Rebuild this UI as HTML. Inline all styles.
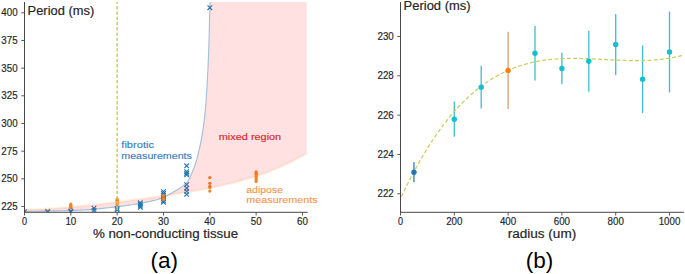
<!DOCTYPE html>
<html><head><meta charset="utf-8"><style>
html,body{margin:0;padding:0;background:#fff;}
svg{display:block;font-family:"Liberation Sans", sans-serif;}
</style></head><body>
<svg width="685" height="274" viewBox="0 0 685 274">
<rect width="685" height="274" fill="#fff"/>
<defs><clipPath id="cl"><rect x="24.5" y="2.0" width="283.1" height="210.3"/></clipPath><clipPath id="cr"><rect x="400.5" y="2.0" width="283.4" height="210.3"/></clipPath></defs>
<g clip-path="url(#cl)">
<path d="M22.20,209.30 L26.80,213.90 M22.20,213.90 L26.80,209.30" stroke="#1f77b4" stroke-width="1.1" fill="none"/>
<path d="M45.37,209.00 L49.96,213.60 M45.37,213.60 L49.96,209.00" stroke="#5f7f98" stroke-width="1.1" fill="none"/>
<path d="M45.37,209.80 L49.96,214.40 M45.37,214.40 L49.96,209.80" stroke="#5f7f98" stroke-width="1.1" fill="none"/>
<path d="M68.53,208.70 L73.13,213.30 M68.53,213.30 L73.13,208.70" stroke="#1f77b4" stroke-width="1.1" fill="none"/>
<path d="M68.53,209.50 L73.13,214.10 M68.53,214.10 L73.13,209.50" stroke="#1f77b4" stroke-width="1.1" fill="none"/>
<path d="M91.70,205.90 L96.30,210.50 M91.70,210.50 L96.30,205.90" stroke="#1f77b4" stroke-width="1.1" fill="none"/>
<path d="M91.70,208.10 L96.30,212.70 M91.70,212.70 L96.30,208.10" stroke="#1f77b4" stroke-width="1.1" fill="none"/>
<path d="M114.86,206.10 L119.46,210.70 M114.86,210.70 L119.46,206.10" stroke="#1f77b4" stroke-width="1.1" fill="none"/>
<path d="M114.86,207.50 L119.46,212.10 M114.86,212.10 L119.46,207.50" stroke="#1f77b4" stroke-width="1.1" fill="none"/>
<path d="M138.02,200.50 L142.62,205.10 M138.02,205.10 L142.62,200.50" stroke="#1f77b4" stroke-width="1.1" fill="none"/>
<path d="M138.02,202.10 L142.62,206.70 M138.02,206.70 L142.62,202.10" stroke="#1f77b4" stroke-width="1.1" fill="none"/>
<path d="M138.02,203.70 L142.62,208.30 M138.02,208.30 L142.62,203.70" stroke="#1f77b4" stroke-width="1.1" fill="none"/>
<path d="M138.02,205.10 L142.62,209.70 M138.02,209.70 L142.62,205.10" stroke="#1f77b4" stroke-width="1.1" fill="none"/>
<path d="M161.19,189.30 L165.79,193.90 M161.19,193.90 L165.79,189.30" stroke="#1f77b4" stroke-width="1.1" fill="none"/>
<path d="M161.19,191.10 L165.79,195.70 M161.19,195.70 L165.79,191.10" stroke="#1f77b4" stroke-width="1.1" fill="none"/>
<path d="M161.19,192.90 L165.79,197.50 M161.19,197.50 L165.79,192.90" stroke="#1f77b4" stroke-width="1.1" fill="none"/>
<path d="M161.19,194.70 L165.79,199.30 M161.19,199.30 L165.79,194.70" stroke="#1f77b4" stroke-width="1.1" fill="none"/>
<path d="M161.19,196.50 L165.79,201.10 M161.19,201.10 L165.79,196.50" stroke="#1f77b4" stroke-width="1.1" fill="none"/>
<path d="M161.19,198.30 L165.79,202.90 M161.19,202.90 L165.79,198.30" stroke="#1f77b4" stroke-width="1.1" fill="none"/>
<path d="M161.19,199.90 L165.79,204.50 M161.19,204.50 L165.79,199.90" stroke="#1f77b4" stroke-width="1.1" fill="none"/>
<path d="M184.35,163.50 L188.96,168.10 M184.35,168.10 L188.96,163.50" stroke="#1f77b4" stroke-width="1.1" fill="none"/>
<path d="M184.35,169.40 L188.96,174.00 M184.35,174.00 L188.96,169.40" stroke="#1f77b4" stroke-width="1.1" fill="none"/>
<path d="M184.35,171.10 L188.96,175.70 M184.35,175.70 L188.96,171.10" stroke="#1f77b4" stroke-width="1.1" fill="none"/>
<path d="M184.35,172.60 L188.96,177.20 M184.35,177.20 L188.96,172.60" stroke="#1f77b4" stroke-width="1.1" fill="none"/>
<path d="M184.35,182.30 L188.96,186.90 M184.35,186.90 L188.96,182.30" stroke="#1f77b4" stroke-width="1.1" fill="none"/>
<path d="M184.35,185.90 L188.96,190.50 M184.35,190.50 L188.96,185.90" stroke="#1f77b4" stroke-width="1.1" fill="none"/>
<path d="M184.35,189.10 L188.96,193.70 M184.35,193.70 L188.96,189.10" stroke="#1f77b4" stroke-width="1.1" fill="none"/>
<path d="M184.35,192.10 L188.96,196.70 M184.35,196.70 L188.96,192.10" stroke="#1f77b4" stroke-width="1.1" fill="none"/>
<path d="M207.52,5.40 L212.12,10.00 M207.52,10.00 L212.12,5.40" stroke="#1f77b4" stroke-width="1.1" fill="none"/>
<circle cx="70.83" cy="204.20" r="1.6" fill="#f58220"/>
<circle cx="70.83" cy="205.40" r="1.6" fill="#f58220"/>
<circle cx="70.83" cy="206.60" r="1.6" fill="#f58220"/>
<circle cx="70.83" cy="207.80" r="1.6" fill="#f58220"/>
<circle cx="117.16" cy="198.80" r="1.6" fill="#f58220"/>
<circle cx="117.16" cy="200.20" r="1.6" fill="#f58220"/>
<circle cx="117.16" cy="201.60" r="1.6" fill="#f58220"/>
<circle cx="117.16" cy="203.00" r="1.6" fill="#f58220"/>
<circle cx="117.16" cy="204.60" r="1.6" fill="#f58220"/>
<circle cx="163.49" cy="195.60" r="1.6" fill="#f58220"/>
<circle cx="163.49" cy="196.80" r="1.6" fill="#f58220"/>
<circle cx="163.49" cy="198.00" r="1.6" fill="#f58220"/>
<circle cx="163.49" cy="199.40" r="1.6" fill="#f58220"/>
<circle cx="209.82" cy="177.60" r="1.6" fill="#f58220"/>
<circle cx="209.82" cy="183.30" r="1.6" fill="#f58220"/>
<circle cx="209.82" cy="186.40" r="1.6" fill="#f58220"/>
<circle cx="209.82" cy="187.60" r="1.6" fill="#f58220"/>
<circle cx="209.82" cy="191.10" r="1.6" fill="#f58220"/>
<circle cx="256.15" cy="171.90" r="1.6" fill="#f58220"/>
<circle cx="256.15" cy="173.30" r="1.6" fill="#f58220"/>
<circle cx="256.15" cy="174.60" r="1.6" fill="#f58220"/>
<circle cx="256.15" cy="176.40" r="1.6" fill="#f58220"/>
<circle cx="256.15" cy="178.00" r="1.6" fill="#f58220"/>
<circle cx="256.15" cy="179.50" r="1.6" fill="#f58220"/>
<circle cx="256.15" cy="181.40" r="1.6" fill="#f58220"/>
<path d="M24.50,209.64 L25.92,209.62 L27.34,209.60 L28.75,209.57 L30.17,209.54 L31.59,209.50 L33.01,209.46 L34.42,209.41 L35.84,209.36 L37.26,209.31 L38.68,209.25 L40.10,209.18 L41.51,209.12 L42.93,209.05 L44.35,208.97 L45.77,208.89 L47.19,208.81 L48.60,208.73 L50.02,208.64 L51.44,208.55 L52.86,208.45 L54.27,208.35 L55.69,208.25 L57.11,208.15 L58.53,208.04 L59.95,207.93 L61.36,207.82 L62.78,207.71 L64.20,207.59 L65.62,207.47 L67.04,207.35 L68.45,207.22 L69.87,207.10 L71.29,206.97 L72.71,206.84 L74.12,206.71 L75.54,206.57 L76.96,206.43 L78.38,206.30 L79.80,206.16 L81.21,206.01 L82.63,205.87 L84.05,205.73 L85.47,205.58 L86.88,205.43 L88.30,205.28 L89.72,205.13 L91.14,204.98 L92.56,204.82 L93.97,204.67 L95.39,204.51 L96.81,204.35 L98.23,204.19 L99.65,204.03 L101.06,203.87 L102.48,203.71 L103.90,203.55 L105.32,203.38 L106.73,203.22 L108.15,203.05 L109.57,202.88 L110.99,202.72 L112.41,202.55 L113.82,202.38 L115.24,202.21 L116.66,202.03 L118.08,201.86 L119.50,201.69 L120.91,201.51 L122.33,201.34 L123.75,201.16 L125.17,200.98 L126.58,200.81 L128.00,200.63 L129.42,200.45 L130.84,200.27 L132.26,200.08 L133.67,199.90 L135.09,199.72 L136.51,199.54 L137.93,199.35 L139.34,199.17 L140.76,198.98 L142.18,198.79 L143.60,198.60 L145.02,198.41 L146.43,198.22 L147.85,198.03 L149.27,197.84 L150.69,197.65 L152.11,197.45 L153.52,197.26 L154.94,197.06 L156.36,196.86 L157.78,196.66 L159.19,196.46 L160.61,196.26 L162.03,196.06 L163.45,195.85 L164.87,195.65 L166.28,195.44 L167.70,195.23 L169.12,195.02 L170.54,194.81 L171.96,194.59 L173.37,194.38 L174.79,194.16 L176.21,193.94 L177.63,193.72 L179.04,193.50 L180.46,193.28 L181.88,193.05 L183.30,192.82 L184.72,192.59 L186.13,192.36 L187.55,192.12 L188.97,191.88 L190.39,191.64 L191.80,191.40 L193.22,191.16 L194.64,190.91 L196.06,190.66 L197.48,190.40 L198.89,190.15 L200.31,189.89 L201.73,189.63 L203.15,189.36 L204.57,189.09 L205.98,188.82 L207.40,188.54 L208.82,188.26 L210.24,187.98 L211.65,187.70 L213.07,187.41 L214.49,187.11 L215.91,186.81 L217.33,186.51 L218.74,186.20 L220.16,185.89 L221.58,185.58 L223.00,185.26 L224.42,184.93 L225.83,184.60 L227.25,184.27 L228.67,183.93 L230.09,183.58 L231.50,183.23 L232.92,182.88 L234.34,182.52 L235.76,182.15 L237.18,181.78 L238.59,181.40 L240.01,181.02 L241.43,180.63 L242.85,180.23 L244.26,179.83 L245.68,179.42 L247.10,179.00 L248.52,178.58 L249.94,178.15 L251.35,177.72 L252.77,177.27 L254.19,176.82 L255.61,176.36 L257.03,175.89 L258.44,175.42 L259.86,174.94 L261.28,174.45 L262.70,173.95 L264.11,173.44 L265.53,172.92 L266.95,172.40 L268.37,171.87 L269.79,171.32 L271.20,170.77 L272.62,170.21 L274.04,169.64 L275.46,169.06 L276.88,168.47 L278.29,167.86 L279.71,167.25 L281.13,166.63 L282.55,166.00 L283.96,165.35 L285.38,164.70 L286.80,164.03 L288.22,163.36 L289.64,162.67 L291.05,161.97 L292.47,161.25 L293.89,160.53 L295.31,159.79 L296.72,159.04 L298.14,158.28 L299.56,157.51 L300.98,156.72 L302.40,155.92 L303.81,155.10 L305.23,154.27 L306.65,153.43 L306.65,1.00 L210.00,1.00 L210.00,-1.20 L209.79,8.69 L209.58,17.99 L209.37,26.64 L209.16,34.54 L208.95,41.63 L208.74,48.16 L208.53,54.21 L208.32,59.73 L208.11,64.67 L207.90,69.05 L207.69,73.23 L207.48,77.26 L207.27,81.15 L207.06,84.89 L206.85,88.49 L206.64,91.93 L206.43,95.21 L206.22,98.32 L206.01,101.27 L205.80,104.05 L205.59,106.66 L205.38,109.09 L205.17,111.34 L204.96,113.40 L204.75,115.35 L204.54,117.24 L204.33,119.06 L204.12,120.81 L203.91,122.51 L203.70,124.14 L203.49,125.72 L203.28,127.24 L203.07,128.71 L202.86,130.14 L202.65,131.51 L202.44,132.85 L202.23,134.14 L202.02,135.39 L201.81,136.61 L201.60,137.80 L201.39,138.95 L201.18,140.08 L200.97,141.18 L200.76,142.26 L200.55,143.32 L200.34,144.36 L200.13,145.39 L199.92,146.40 L199.71,147.40 L199.50,148.37 L199.29,149.32 L199.08,150.26 L198.87,151.17 L198.66,152.07 L198.45,152.94 L198.24,153.80 L198.03,154.64 L197.82,155.46 L197.61,156.27 L197.39,157.05 L197.18,157.83 L196.97,158.58 L196.76,159.32 L196.55,160.05 L196.34,160.76 L196.13,161.46 L195.92,162.14 L195.71,162.81 L195.50,163.47 L195.29,164.12 L195.08,164.75 L194.87,165.37 L194.66,165.97 L194.45,166.55 L194.24,167.11 L194.03,167.65 L193.82,168.19 L193.61,168.71 L193.40,169.21 L193.19,169.72 L192.98,170.21 L192.77,170.70 L192.56,171.19 L192.35,171.68 L192.14,172.17 L191.93,172.66 L191.72,173.16 L191.51,173.67 L191.30,174.18 L191.09,174.69 L190.88,175.20 L190.67,175.71 L190.46,176.21 L190.25,176.71 L190.04,177.19 L189.83,177.66 L189.62,178.11 L189.41,178.55 L189.20,178.96 L188.99,179.35 L188.78,179.71 L188.57,180.04 L188.36,180.36 L188.15,180.66 L187.94,180.96 L187.73,181.24 L187.52,181.51 L187.31,181.78 L187.10,182.03 L186.89,182.28 L186.68,182.52 L186.47,182.75 L186.26,182.98 L186.05,183.20 L185.84,183.41 L185.63,183.61 L185.42,183.81 L185.21,184.01 L185.00,184.20 L182.28,186.41 L179.56,188.26 L176.84,189.91 L174.12,191.53 L171.40,193.16 L168.68,194.75 L165.96,196.23 L163.24,197.55 L160.52,198.63 L157.80,199.48 L155.08,200.24 L152.36,200.93 L149.64,201.55 L146.92,202.11 L144.19,202.64 L141.47,203.14 L138.75,203.62 L136.03,204.08 L133.31,204.53 L130.59,204.95 L127.87,205.35 L125.15,205.73 L122.43,206.10 L119.71,206.44 L116.99,206.77 L114.27,207.08 L111.55,207.39 L108.83,207.71 L106.11,208.02 L103.39,208.32 L100.67,208.62 L97.95,208.90 L95.23,209.17 L92.51,209.41 L89.79,209.64 L87.07,209.84 L84.35,210.00 L81.63,210.14 L78.91,210.24 L76.19,210.33 L73.47,210.42 L70.75,210.50 L68.03,210.58 L65.31,210.66 L62.58,210.74 L59.86,210.81 L57.14,210.88 L54.42,210.94 L51.70,211.00 L48.98,211.05 L46.26,211.10 L43.54,211.15 L40.82,211.19 L38.10,211.22 L35.38,211.25 L32.66,211.27 L29.94,211.29 L27.22,211.30 L24.50,211.30 Z" fill="#ff0a14" fill-opacity="0.12" stroke="none"/>
<path d="M24.50,209.64 L25.92,209.62 L27.34,209.60 L28.75,209.57 L30.17,209.54 L31.59,209.50 L33.01,209.46 L34.42,209.41 L35.84,209.36 L37.26,209.31 L38.68,209.25 L40.10,209.18 L41.51,209.12 L42.93,209.05 L44.35,208.97 L45.77,208.89 L47.19,208.81 L48.60,208.73 L50.02,208.64 L51.44,208.55 L52.86,208.45 L54.27,208.35 L55.69,208.25 L57.11,208.15 L58.53,208.04 L59.95,207.93 L61.36,207.82 L62.78,207.71 L64.20,207.59 L65.62,207.47 L67.04,207.35 L68.45,207.22 L69.87,207.10 L71.29,206.97 L72.71,206.84 L74.12,206.71 L75.54,206.57 L76.96,206.43 L78.38,206.30 L79.80,206.16 L81.21,206.01 L82.63,205.87 L84.05,205.73 L85.47,205.58 L86.88,205.43 L88.30,205.28 L89.72,205.13 L91.14,204.98 L92.56,204.82 L93.97,204.67 L95.39,204.51 L96.81,204.35 L98.23,204.19 L99.65,204.03 L101.06,203.87 L102.48,203.71 L103.90,203.55 L105.32,203.38 L106.73,203.22 L108.15,203.05 L109.57,202.88 L110.99,202.72 L112.41,202.55 L113.82,202.38 L115.24,202.21 L116.66,202.03 L118.08,201.86 L119.50,201.69 L120.91,201.51 L122.33,201.34 L123.75,201.16 L125.17,200.98 L126.58,200.81 L128.00,200.63 L129.42,200.45 L130.84,200.27 L132.26,200.08 L133.67,199.90 L135.09,199.72 L136.51,199.54 L137.93,199.35 L139.34,199.17 L140.76,198.98 L142.18,198.79 L143.60,198.60 L145.02,198.41 L146.43,198.22 L147.85,198.03 L149.27,197.84 L150.69,197.65 L152.11,197.45 L153.52,197.26 L154.94,197.06 L156.36,196.86 L157.78,196.66 L159.19,196.46 L160.61,196.26 L162.03,196.06 L163.45,195.85 L164.87,195.65 L166.28,195.44 L167.70,195.23 L169.12,195.02 L170.54,194.81 L171.96,194.59 L173.37,194.38 L174.79,194.16 L176.21,193.94 L177.63,193.72 L179.04,193.50 L180.46,193.28 L181.88,193.05 L183.30,192.82 L184.72,192.59 L186.13,192.36 L187.55,192.12 L188.97,191.88 L190.39,191.64 L191.80,191.40 L193.22,191.16 L194.64,190.91 L196.06,190.66 L197.48,190.40 L198.89,190.15 L200.31,189.89 L201.73,189.63 L203.15,189.36 L204.57,189.09 L205.98,188.82 L207.40,188.54 L208.82,188.26 L210.24,187.98 L211.65,187.70 L213.07,187.41 L214.49,187.11 L215.91,186.81 L217.33,186.51 L218.74,186.20 L220.16,185.89 L221.58,185.58 L223.00,185.26 L224.42,184.93 L225.83,184.60 L227.25,184.27 L228.67,183.93 L230.09,183.58 L231.50,183.23 L232.92,182.88 L234.34,182.52 L235.76,182.15 L237.18,181.78 L238.59,181.40 L240.01,181.02 L241.43,180.63 L242.85,180.23 L244.26,179.83 L245.68,179.42 L247.10,179.00 L248.52,178.58 L249.94,178.15 L251.35,177.72 L252.77,177.27 L254.19,176.82 L255.61,176.36 L257.03,175.89 L258.44,175.42 L259.86,174.94 L261.28,174.45 L262.70,173.95 L264.11,173.44 L265.53,172.92 L266.95,172.40 L268.37,171.87 L269.79,171.32 L271.20,170.77 L272.62,170.21 L274.04,169.64 L275.46,169.06 L276.88,168.47 L278.29,167.86 L279.71,167.25 L281.13,166.63 L282.55,166.00 L283.96,165.35 L285.38,164.70 L286.80,164.03 L288.22,163.36 L289.64,162.67 L291.05,161.97 L292.47,161.25 L293.89,160.53 L295.31,159.79 L296.72,159.04 L298.14,158.28 L299.56,157.51 L300.98,156.72 L302.40,155.92 L303.81,155.10 L305.23,154.27 L306.65,153.43" fill="none" stroke="#ffa040" stroke-opacity="0.15" stroke-width="2.4"/>
<path d="M24.50,211.30 L27.22,211.30 L29.94,211.29 L32.66,211.27 L35.38,211.25 L38.10,211.22 L40.82,211.19 L43.54,211.15 L46.26,211.10 L48.98,211.05 L51.70,211.00 L54.42,210.94 L57.14,210.88 L59.86,210.81 L62.58,210.74 L65.31,210.66 L68.03,210.58 L70.75,210.50 L73.47,210.42 L76.19,210.33 L78.91,210.24 L81.63,210.14 L84.35,210.00 L87.07,209.84 L89.79,209.64 L92.51,209.41 L95.23,209.17 L97.95,208.90 L100.67,208.62 L103.39,208.32 L106.11,208.02 L108.83,207.71 L111.55,207.39 L114.27,207.08 L116.99,206.77 L119.71,206.44 L122.43,206.10 L125.15,205.73 L127.87,205.35 L130.59,204.95 L133.31,204.53 L136.03,204.08 L138.75,203.62 L141.47,203.14 L144.19,202.64 L146.92,202.11 L149.64,201.55 L152.36,200.93 L155.08,200.24 L157.80,199.48 L160.52,198.63 L163.24,197.55 L165.96,196.23 L168.68,194.75 L171.40,193.16 L174.12,191.53 L176.84,189.91 L179.56,188.26 L182.28,186.41 L185.00,184.20 L185.21,184.01 L185.42,183.81 L185.63,183.61 L185.84,183.41 L186.05,183.20 L186.26,182.98 L186.47,182.75 L186.68,182.52 L186.89,182.28 L187.10,182.03 L187.31,181.78 L187.52,181.51 L187.73,181.24 L187.94,180.96 L188.15,180.66 L188.36,180.36 L188.57,180.04 L188.78,179.71 L188.99,179.35 L189.20,178.96 L189.41,178.55 L189.62,178.11 L189.83,177.66 L190.04,177.19 L190.25,176.71 L190.46,176.21 L190.67,175.71 L190.88,175.20 L191.09,174.69 L191.30,174.18 L191.51,173.67 L191.72,173.16 L191.93,172.66 L192.14,172.17 L192.35,171.68 L192.56,171.19 L192.77,170.70 L192.98,170.21 L193.19,169.72 L193.40,169.21 L193.61,168.71 L193.82,168.19 L194.03,167.65 L194.24,167.11 L194.45,166.55 L194.66,165.97 L194.87,165.37 L195.08,164.75 L195.29,164.12 L195.50,163.47 L195.71,162.81 L195.92,162.14 L196.13,161.46 L196.34,160.76 L196.55,160.05 L196.76,159.32 L196.97,158.58 L197.18,157.83 L197.39,157.05 L197.61,156.27 L197.82,155.46 L198.03,154.64 L198.24,153.80 L198.45,152.94 L198.66,152.07 L198.87,151.17 L199.08,150.26 L199.29,149.32 L199.50,148.37 L199.71,147.40 L199.92,146.40 L200.13,145.39 L200.34,144.36 L200.55,143.32 L200.76,142.26 L200.97,141.18 L201.18,140.08 L201.39,138.95 L201.60,137.80 L201.81,136.61 L202.02,135.39 L202.23,134.14 L202.44,132.85 L202.65,131.51 L202.86,130.14 L203.07,128.71 L203.28,127.24 L203.49,125.72 L203.70,124.14 L203.91,122.51 L204.12,120.81 L204.33,119.06 L204.54,117.24 L204.75,115.35 L204.96,113.40 L205.17,111.34 L205.38,109.09 L205.59,106.66 L205.80,104.05 L206.01,101.27 L206.22,98.32 L206.43,95.21 L206.64,91.93 L206.85,88.49 L207.06,84.89 L207.27,81.15 L207.48,77.26 L207.69,73.23 L207.90,69.05 L208.11,64.67 L208.32,59.73 L208.53,54.21 L208.74,48.16 L208.95,41.63 L209.16,34.54 L209.37,26.64 L209.58,17.99 L209.79,8.69 L210.00,-1.20" fill="none" stroke="#1f77b4" stroke-opacity="0.4" stroke-width="1.15"/>
<line x1="117.16" y1="212.3" x2="117.16" y2="1.0" stroke="#c8cc70" stroke-width="1.5" stroke-dasharray="3.4 1.88" stroke-dashoffset="3.0"/>
</g>
<text x="121.30" y="148.40" font-size="9.4" fill="#3a80bb" text-anchor="start" textLength="32.80" lengthAdjust="spacingAndGlyphs" stroke="#3a80bb" stroke-width="0.15">fibrotic</text>
<text x="121.30" y="158.60" font-size="9.4" fill="#3a80bb" text-anchor="start" textLength="70.60" lengthAdjust="spacingAndGlyphs" stroke="#3a80bb" stroke-width="0.15">measurements</text>
<text x="218.80" y="140.00" font-size="9.4" fill="#d8242e" text-anchor="start" textLength="62.40" lengthAdjust="spacingAndGlyphs" stroke="#d8242e" stroke-width="0.15">mixed region</text>
<text x="246.30" y="192.80" font-size="9.4" fill="#f29450" text-anchor="start" textLength="36.70" lengthAdjust="spacingAndGlyphs" stroke="#f29450" stroke-width="0.12">adipose</text>
<text x="246.30" y="203.10" font-size="9.4" fill="#f29450" text-anchor="start" textLength="71.40" lengthAdjust="spacingAndGlyphs" stroke="#f29450" stroke-width="0.12">measurements</text>
<line x1="24.5" y1="2.0" x2="24.5" y2="212.8" stroke="#464646" stroke-width="1"/>
<line x1="24.0" y1="212.3" x2="307.6" y2="212.3" stroke="#464646" stroke-width="1"/>
<line x1="21.30" y1="206.50" x2="24.5" y2="206.50" stroke="#464646" stroke-width="0.9"/>
<text x="17.60" y="210.00" font-size="11" fill="#262626" text-anchor="end" textLength="16.30" lengthAdjust="spacingAndGlyphs" stroke="#262626" stroke-width="0.18">225</text>
<line x1="21.30" y1="178.83" x2="24.5" y2="178.83" stroke="#464646" stroke-width="0.9"/>
<text x="17.60" y="182.33" font-size="11" fill="#262626" text-anchor="end" textLength="16.30" lengthAdjust="spacingAndGlyphs" stroke="#262626" stroke-width="0.18">250</text>
<line x1="21.30" y1="151.16" x2="24.5" y2="151.16" stroke="#464646" stroke-width="0.9"/>
<text x="17.60" y="154.66" font-size="11" fill="#262626" text-anchor="end" textLength="16.30" lengthAdjust="spacingAndGlyphs" stroke="#262626" stroke-width="0.18">275</text>
<line x1="21.30" y1="123.49" x2="24.5" y2="123.49" stroke="#464646" stroke-width="0.9"/>
<text x="17.60" y="126.99" font-size="11" fill="#262626" text-anchor="end" textLength="16.30" lengthAdjust="spacingAndGlyphs" stroke="#262626" stroke-width="0.18">300</text>
<line x1="21.30" y1="95.81" x2="24.5" y2="95.81" stroke="#464646" stroke-width="0.9"/>
<text x="17.60" y="99.31" font-size="11" fill="#262626" text-anchor="end" textLength="16.30" lengthAdjust="spacingAndGlyphs" stroke="#262626" stroke-width="0.18">325</text>
<line x1="21.30" y1="68.14" x2="24.5" y2="68.14" stroke="#464646" stroke-width="0.9"/>
<text x="17.60" y="71.64" font-size="11" fill="#262626" text-anchor="end" textLength="16.30" lengthAdjust="spacingAndGlyphs" stroke="#262626" stroke-width="0.18">350</text>
<line x1="21.30" y1="40.47" x2="24.5" y2="40.47" stroke="#464646" stroke-width="0.9"/>
<text x="17.60" y="43.97" font-size="11" fill="#262626" text-anchor="end" textLength="16.30" lengthAdjust="spacingAndGlyphs" stroke="#262626" stroke-width="0.18">375</text>
<line x1="21.30" y1="12.80" x2="24.5" y2="12.80" stroke="#464646" stroke-width="0.9"/>
<text x="17.60" y="16.30" font-size="11" fill="#262626" text-anchor="end" textLength="16.30" lengthAdjust="spacingAndGlyphs" stroke="#262626" stroke-width="0.18">400</text>
<line x1="24.50" y1="212.3" x2="24.50" y2="215.50" stroke="#464646" stroke-width="0.9"/>
<text x="24.50" y="224.60" font-size="11" fill="#262626" text-anchor="middle" textLength="5.00" lengthAdjust="spacingAndGlyphs" stroke="#262626" stroke-width="0.18">0</text>
<line x1="70.83" y1="212.3" x2="70.83" y2="215.50" stroke="#464646" stroke-width="0.9"/>
<text x="70.83" y="224.60" font-size="11" fill="#262626" text-anchor="middle" textLength="10.90" lengthAdjust="spacingAndGlyphs" stroke="#262626" stroke-width="0.18">10</text>
<line x1="117.16" y1="212.3" x2="117.16" y2="215.50" stroke="#464646" stroke-width="0.9"/>
<text x="117.16" y="224.60" font-size="11" fill="#262626" text-anchor="middle" textLength="10.90" lengthAdjust="spacingAndGlyphs" stroke="#262626" stroke-width="0.18">20</text>
<line x1="163.49" y1="212.3" x2="163.49" y2="215.50" stroke="#464646" stroke-width="0.9"/>
<text x="163.49" y="224.60" font-size="11" fill="#262626" text-anchor="middle" textLength="10.90" lengthAdjust="spacingAndGlyphs" stroke="#262626" stroke-width="0.18">30</text>
<line x1="209.82" y1="212.3" x2="209.82" y2="215.50" stroke="#464646" stroke-width="0.9"/>
<text x="209.82" y="224.60" font-size="11" fill="#262626" text-anchor="middle" textLength="10.90" lengthAdjust="spacingAndGlyphs" stroke="#262626" stroke-width="0.18">40</text>
<line x1="256.15" y1="212.3" x2="256.15" y2="215.50" stroke="#464646" stroke-width="0.9"/>
<text x="256.15" y="224.60" font-size="11" fill="#262626" text-anchor="middle" textLength="10.90" lengthAdjust="spacingAndGlyphs" stroke="#262626" stroke-width="0.18">50</text>
<line x1="302.48" y1="212.3" x2="302.48" y2="215.50" stroke="#464646" stroke-width="0.9"/>
<text x="302.48" y="224.60" font-size="11" fill="#262626" text-anchor="middle" textLength="10.90" lengthAdjust="spacingAndGlyphs" stroke="#262626" stroke-width="0.18">60</text>
<text x="27.60" y="14.60" font-size="12" fill="#262626" text-anchor="start" textLength="66.60" lengthAdjust="spacingAndGlyphs" stroke="#262626" stroke-width="0.18">Period (ms)</text>
<text x="92.90" y="238.20" font-size="12" fill="#262626" text-anchor="start" textLength="145.20" lengthAdjust="spacingAndGlyphs" stroke="#262626" stroke-width="0.18">% non-conducting tissue</text>
<text x="164.20" y="268.20" font-size="22.5" fill="#000" text-anchor="middle">(a)</text>
<g clip-path="url(#cr)">
<line x1="413.95" y1="162.30" x2="413.95" y2="182.30" stroke="#3a7fb8" stroke-width="1.35"/>
<line x1="454.30" y1="101.59" x2="454.30" y2="136.79" stroke="#45bfd0" stroke-width="1.35"/>
<line x1="481.20" y1="65.83" x2="481.20" y2="108.54" stroke="#45bfd0" stroke-width="1.35"/>
<line x1="508.10" y1="31.73" x2="508.10" y2="109.04" stroke="#e4a070" stroke-width="1.35"/>
<line x1="535.00" y1="25.98" x2="535.00" y2="80.39" stroke="#45bfd0" stroke-width="1.35"/>
<line x1="561.90" y1="52.73" x2="561.90" y2="84.24" stroke="#45bfd0" stroke-width="1.35"/>
<line x1="588.80" y1="30.83" x2="588.80" y2="91.74" stroke="#45bfd0" stroke-width="1.35"/>
<line x1="615.70" y1="14.03" x2="615.70" y2="74.93" stroke="#45bfd0" stroke-width="1.35"/>
<line x1="642.60" y1="45.48" x2="642.60" y2="113.09" stroke="#45bfd0" stroke-width="1.35"/>
<line x1="669.50" y1="11.38" x2="669.50" y2="92.39" stroke="#45bfd0" stroke-width="1.35"/>
<path d="M400.50,198.62 L401.45,196.60 L402.40,194.59 L403.35,192.60 L404.30,190.63 L405.25,188.68 L406.19,186.75 L407.14,184.83 L408.09,182.94 L409.04,181.06 L409.99,179.21 L410.94,177.37 L411.89,175.55 L412.84,173.75 L413.79,171.96 L414.74,170.20 L415.69,168.45 L416.64,166.72 L417.58,165.01 L418.53,163.32 L419.48,161.64 L420.43,159.98 L421.38,158.34 L422.33,156.72 L423.28,155.11 L424.23,153.52 L425.18,151.95 L426.13,150.39 L427.08,148.85 L428.03,147.33 L428.97,145.83 L429.92,144.34 L430.87,142.87 L431.82,141.42 L432.77,139.98 L433.72,138.55 L434.67,137.15 L435.62,135.76 L436.57,134.39 L437.52,133.03 L438.47,131.69 L439.42,130.36 L440.36,129.05 L441.31,127.76 L442.26,126.48 L443.21,125.21 L444.16,123.96 L445.11,122.73 L446.06,121.51 L447.01,120.31 L447.96,119.12 L448.91,117.95 L449.86,116.79 L450.80,115.65 L451.75,114.52 L452.70,113.40 L453.65,112.30 L454.60,111.22 L455.55,110.15 L456.50,109.09 L457.45,108.05 L458.40,107.02 L459.35,106.00 L460.30,105.00 L461.25,104.01 L462.19,103.04 L463.14,102.08 L464.09,101.13 L465.04,100.19 L465.99,99.27 L466.94,98.37 L467.89,97.47 L468.84,96.59 L469.79,95.72 L470.74,94.87 L471.69,94.02 L472.64,93.19 L473.58,92.37 L474.53,91.57 L475.48,90.78 L476.43,89.99 L477.38,89.23 L478.33,88.47 L479.28,87.73 L480.23,86.99 L481.18,86.27 L482.13,85.56 L483.08,84.87 L484.02,84.18 L484.97,83.50 L485.92,82.84 L486.87,82.19 L487.82,81.55 L488.77,80.92 L489.72,80.30 L490.67,79.69 L491.62,79.10 L492.57,78.51 L493.52,77.94 L494.47,77.37 L495.41,76.82 L496.36,76.27 L497.31,75.74 L498.26,75.22 L499.21,74.70 L500.16,74.20 L501.11,73.71 L502.06,73.22 L503.01,72.75 L503.96,72.28 L504.91,71.83 L505.86,71.38 L506.80,70.95 L507.75,70.52 L508.70,70.10 L509.65,69.70 L510.60,69.30 L511.55,68.91 L512.50,68.53 L513.45,68.15 L514.40,67.79 L515.35,67.43 L516.30,67.09 L517.25,66.75 L518.19,66.42 L519.14,66.10 L520.09,65.78 L521.04,65.48 L521.99,65.18 L522.94,64.89 L523.89,64.61 L524.84,64.33 L525.79,64.07 L526.74,63.81 L527.69,63.56 L528.63,63.31 L529.58,63.07 L530.53,62.84 L531.48,62.62 L532.43,62.40 L533.38,62.19 L534.33,61.99 L535.28,61.80 L536.23,61.61 L537.18,61.42 L538.13,61.25 L539.08,61.08 L540.02,60.91 L540.97,60.76 L541.92,60.61 L542.87,60.46 L543.82,60.32 L544.77,60.19 L545.72,60.06 L546.67,59.94 L547.62,59.82 L548.57,59.71 L549.52,59.60 L550.47,59.50 L551.41,59.40 L552.36,59.31 L553.31,59.23 L554.26,59.15 L555.21,59.07 L556.16,59.00 L557.11,58.93 L558.06,58.87 L559.01,58.81 L559.96,58.76 L560.91,58.71 L561.86,58.66 L562.80,58.62 L563.75,58.59 L564.70,58.55 L565.65,58.52 L566.60,58.50 L567.55,58.48 L568.50,58.46 L569.45,58.44 L570.40,58.43 L571.35,58.42 L572.30,58.42 L573.24,58.42 L574.19,58.42 L575.14,58.42 L576.09,58.43 L577.04,58.44 L577.99,58.45 L578.94,58.46 L579.89,58.48 L580.84,58.50 L581.79,58.52 L582.74,58.55 L583.69,58.57 L584.63,58.60 L585.58,58.63 L586.53,58.66 L587.48,58.69 L588.43,58.73 L589.38,58.77 L590.33,58.80 L591.28,58.84 L592.23,58.89 L593.18,58.93 L594.13,58.97 L595.08,59.02 L596.02,59.06 L596.97,59.11 L597.92,59.15 L598.87,59.20 L599.82,59.25 L600.77,59.30 L601.72,59.35 L602.67,59.40 L603.62,59.44 L604.57,59.49 L605.52,59.54 L606.46,59.59 L607.41,59.64 L608.36,59.69 L609.31,59.74 L610.26,59.79 L611.21,59.84 L612.16,59.88 L613.11,59.93 L614.06,59.98 L615.01,60.02 L615.96,60.07 L616.91,60.11 L617.85,60.15 L618.80,60.19 L619.75,60.23 L620.70,60.27 L621.65,60.30 L622.60,60.34 L623.55,60.37 L624.50,60.40 L625.45,60.43 L626.40,60.46 L627.35,60.49 L628.30,60.51 L629.24,60.53 L630.19,60.55 L631.14,60.57 L632.09,60.58 L633.04,60.59 L633.99,60.60 L634.94,60.61 L635.89,60.61 L636.84,60.61 L637.79,60.61 L638.74,60.60 L639.69,60.59 L640.63,60.58 L641.58,60.56 L642.53,60.54 L643.48,60.52 L644.43,60.49 L645.38,60.46 L646.33,60.43 L647.28,60.39 L648.23,60.35 L649.18,60.30 L650.13,60.25 L651.07,60.20 L652.02,60.14 L652.97,60.08 L653.92,60.01 L654.87,59.93 L655.82,59.86 L656.77,59.77 L657.72,59.69 L658.67,59.60 L659.62,59.50 L660.57,59.40 L661.52,59.29 L662.46,59.17 L663.41,59.06 L664.36,58.93 L665.31,58.80 L666.26,58.67 L667.21,58.53 L668.16,58.38 L669.11,58.23 L670.06,58.07 L671.01,57.90 L671.96,57.73 L672.91,57.55 L673.85,57.37 L674.80,57.18 L675.75,56.98 L676.70,56.77 L677.65,56.56 L678.60,56.34 L679.55,56.12 L680.50,55.89 L681.45,55.65 L682.40,55.40 L683.35,55.15 L684.30,54.89" fill="none" stroke="#cacd5e" stroke-width="1.25" stroke-dasharray="3.9 2.3" stroke-dashoffset="4.2"/>
<circle cx="413.95" cy="172.30" r="2.7" fill="#1f77b4"/>
<circle cx="454.30" cy="119.19" r="2.7" fill="#17becf"/>
<circle cx="481.20" cy="87.19" r="2.7" fill="#17becf"/>
<circle cx="508.10" cy="70.38" r="2.7" fill="#ff7f0e"/>
<circle cx="535.00" cy="53.18" r="2.7" fill="#17becf"/>
<circle cx="561.90" cy="68.48" r="2.7" fill="#17becf"/>
<circle cx="588.80" cy="61.28" r="2.7" fill="#17becf"/>
<circle cx="615.70" cy="44.48" r="2.7" fill="#17becf"/>
<circle cx="642.60" cy="79.29" r="2.7" fill="#17becf"/>
<circle cx="669.50" cy="51.88" r="2.7" fill="#17becf"/>
</g>
<line x1="400.5" y1="2.0" x2="400.5" y2="212.8" stroke="#464646" stroke-width="1"/>
<line x1="400.0" y1="212.3" x2="683.9" y2="212.3" stroke="#464646" stroke-width="1"/>
<line x1="397.30" y1="193.80" x2="400.5" y2="193.80" stroke="#464646" stroke-width="0.9"/>
<text x="393.80" y="197.30" font-size="11" fill="#262626" text-anchor="end" textLength="16.30" lengthAdjust="spacingAndGlyphs" stroke="#262626" stroke-width="0.18">222</text>
<line x1="397.30" y1="154.48" x2="400.5" y2="154.48" stroke="#464646" stroke-width="0.9"/>
<text x="393.80" y="157.98" font-size="11" fill="#262626" text-anchor="end" textLength="16.30" lengthAdjust="spacingAndGlyphs" stroke="#262626" stroke-width="0.18">224</text>
<line x1="397.30" y1="115.15" x2="400.5" y2="115.15" stroke="#464646" stroke-width="0.9"/>
<text x="393.80" y="118.65" font-size="11" fill="#262626" text-anchor="end" textLength="16.30" lengthAdjust="spacingAndGlyphs" stroke="#262626" stroke-width="0.18">226</text>
<line x1="397.30" y1="75.83" x2="400.5" y2="75.83" stroke="#464646" stroke-width="0.9"/>
<text x="393.80" y="79.33" font-size="11" fill="#262626" text-anchor="end" textLength="16.30" lengthAdjust="spacingAndGlyphs" stroke="#262626" stroke-width="0.18">228</text>
<line x1="397.30" y1="36.50" x2="400.5" y2="36.50" stroke="#464646" stroke-width="0.9"/>
<text x="393.80" y="40.00" font-size="11" fill="#262626" text-anchor="end" textLength="16.30" lengthAdjust="spacingAndGlyphs" stroke="#262626" stroke-width="0.18">230</text>
<line x1="400.50" y1="212.3" x2="400.50" y2="215.50" stroke="#464646" stroke-width="0.9"/>
<text x="400.50" y="224.60" font-size="11" fill="#262626" text-anchor="middle" textLength="5.00" lengthAdjust="spacingAndGlyphs" stroke="#262626" stroke-width="0.18">0</text>
<line x1="454.30" y1="212.3" x2="454.30" y2="215.50" stroke="#464646" stroke-width="0.9"/>
<text x="454.30" y="224.60" font-size="11" fill="#262626" text-anchor="middle" textLength="16.30" lengthAdjust="spacingAndGlyphs" stroke="#262626" stroke-width="0.18">200</text>
<line x1="508.10" y1="212.3" x2="508.10" y2="215.50" stroke="#464646" stroke-width="0.9"/>
<text x="508.10" y="224.60" font-size="11" fill="#262626" text-anchor="middle" textLength="16.30" lengthAdjust="spacingAndGlyphs" stroke="#262626" stroke-width="0.18">400</text>
<line x1="561.90" y1="212.3" x2="561.90" y2="215.50" stroke="#464646" stroke-width="0.9"/>
<text x="561.90" y="224.60" font-size="11" fill="#262626" text-anchor="middle" textLength="16.30" lengthAdjust="spacingAndGlyphs" stroke="#262626" stroke-width="0.18">600</text>
<line x1="615.70" y1="212.3" x2="615.70" y2="215.50" stroke="#464646" stroke-width="0.9"/>
<text x="615.70" y="224.60" font-size="11" fill="#262626" text-anchor="middle" textLength="16.30" lengthAdjust="spacingAndGlyphs" stroke="#262626" stroke-width="0.18">800</text>
<line x1="669.50" y1="212.3" x2="669.50" y2="215.50" stroke="#464646" stroke-width="0.9"/>
<text x="669.50" y="224.60" font-size="11" fill="#262626" text-anchor="middle" textLength="21.60" lengthAdjust="spacingAndGlyphs" stroke="#262626" stroke-width="0.18">1000</text>
<text x="403.60" y="9.50" font-size="12" fill="#262626" text-anchor="start" textLength="67.00" lengthAdjust="spacingAndGlyphs" stroke="#262626" stroke-width="0.18">Period (ms)</text>
<text x="507.70" y="238.20" font-size="12" fill="#262626" text-anchor="start" textLength="68.50" lengthAdjust="spacingAndGlyphs" stroke="#262626" stroke-width="0.18">radius (um)</text>
<text x="539.50" y="268.20" font-size="22.5" fill="#000" text-anchor="middle">(b)</text>
</svg>
</body></html>
